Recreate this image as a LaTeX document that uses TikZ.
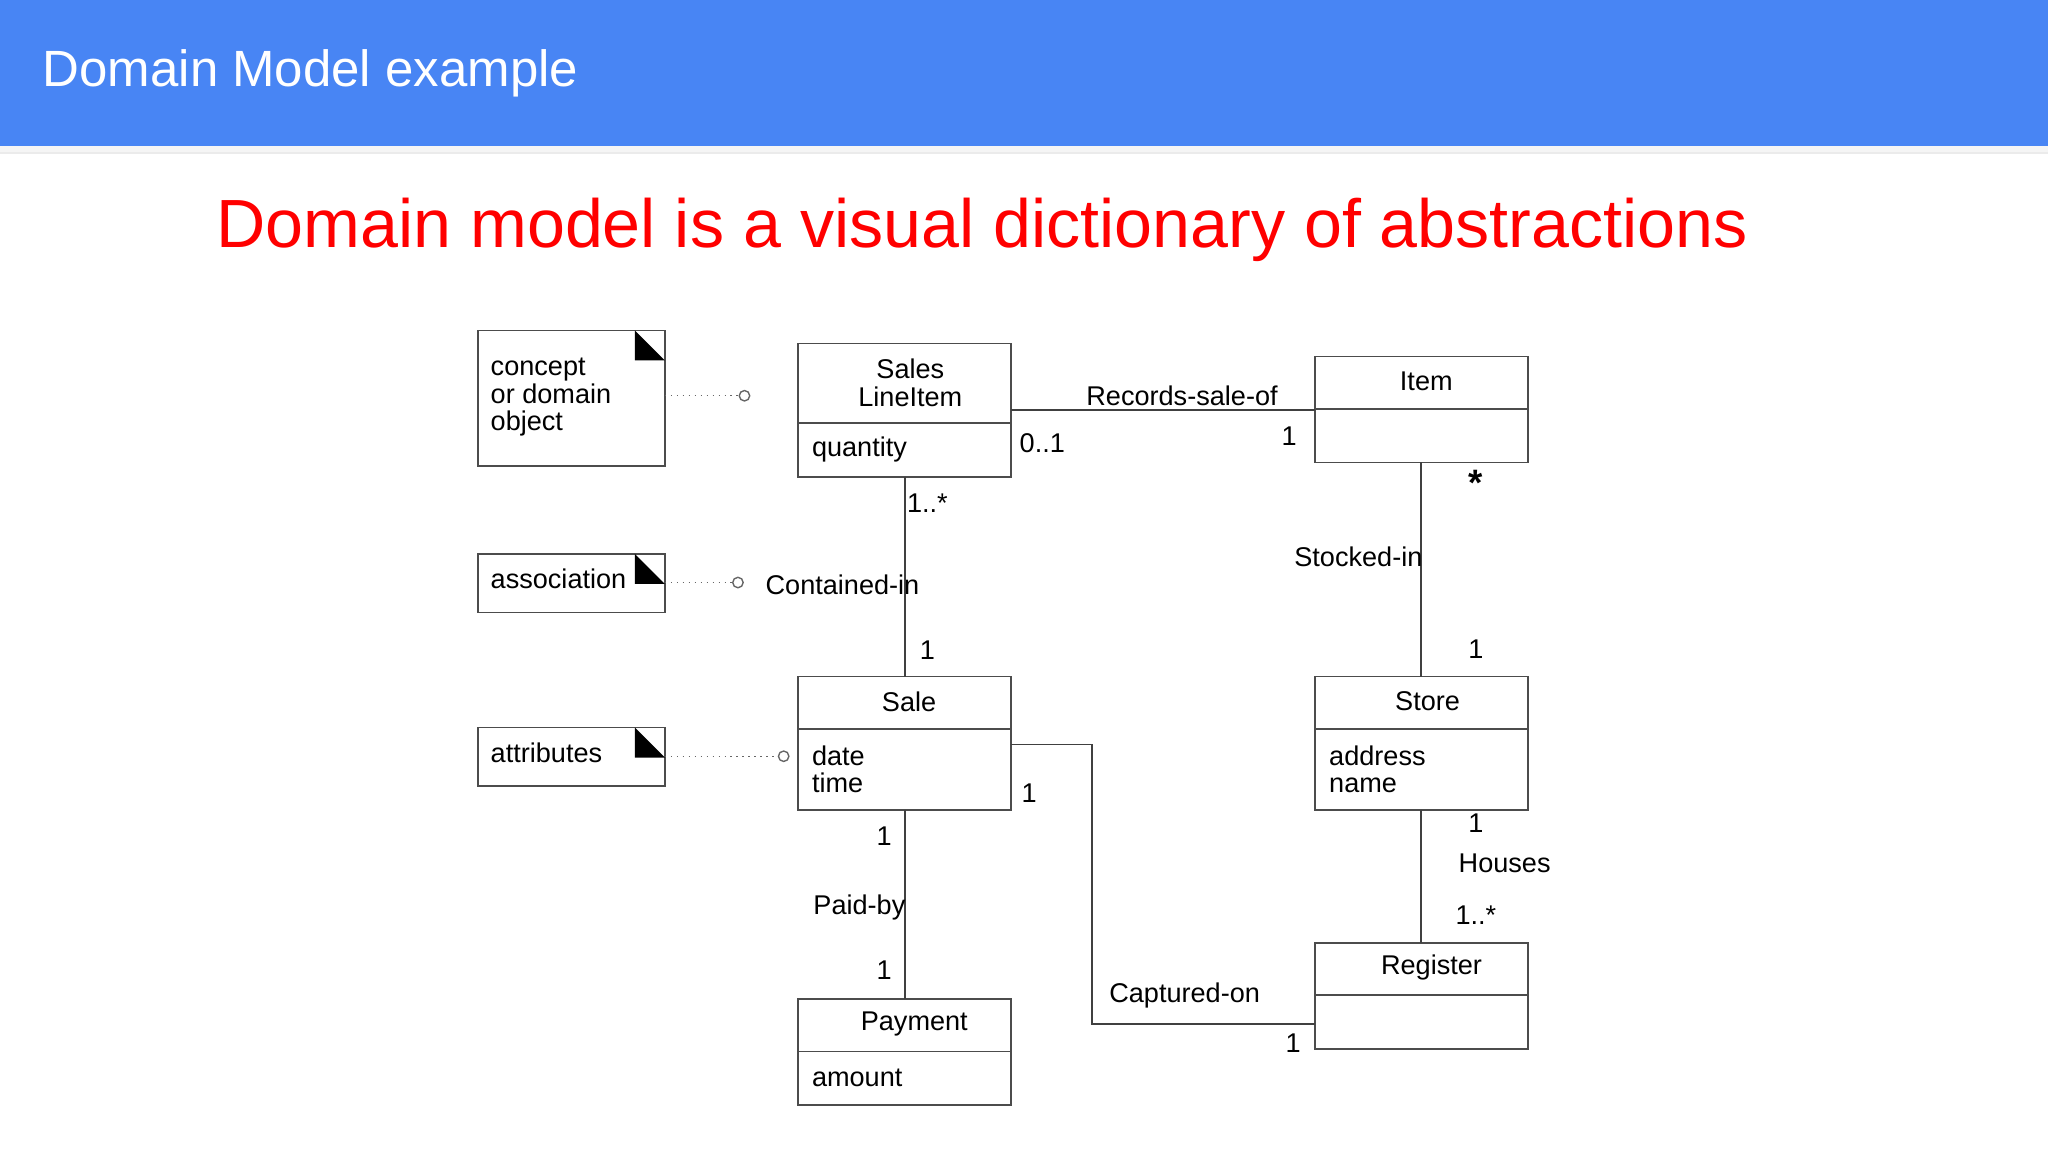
\documentclass[tikz,border=0pt]{standalone}
\usepackage{fontspec}
\setmainfont{Liberation Sans}
\begin{document}
\begin{tikzpicture}[x=0.01cm,y=-0.01cm,
  cls/.style={draw=black!70,line width=0.35pt},
  lbl/.style={font=\fontsize{5.9}{7}\selectfont,inner sep=0pt},
  lnk/.style={draw=black!75,line width=0.4pt},
  dot/.style={draw=black!60,densely dotted,line width=0.3pt},
  circ/.style={draw=black!60,fill=white,circle,inner sep=0pt,minimum size=0.08cm,line width=0.3pt}]
\useasboundingbox (0,0) rectangle (1568,882);
\fill[white] (0,0) rectangle (1568,882);
\fill[black!8] (0,112) rectangle (1568,118);
\fill[black!4] (0,112) rectangle (1568,116);
\fill[fill={rgb,255:red,72;green,133;blue,244}] (0,0) rectangle (1568,112);
\node[anchor=west,text=white,font=\fontsize{11.1}{13}\selectfont,inner sep=0pt] (title) at (32,56) {Domain Model example};
\node[text=red,font=\fontsize{14.85}{16}\selectfont,inner sep=0pt] (head) at (752,176) {Domain model is a visual dictionary of abstractions};
% classes
\draw[cls] (611,263) rectangle (774,365); \draw[cls] (611,324) -- (774,324);
\node[lbl,align=center] (sli) at (697,293) {Sales\\[-1pt]LineItem};
\node[lbl,anchor=west] (slia) at (621,344) {quantity};
\draw[cls] (1007,273) rectangle (1170,354); \draw[cls] (1007,313) -- (1170,313);
\node[lbl] (item) at (1092,292) {Item};
\draw[cls] (611,518) rectangle (774,620); \draw[cls] (611,558) -- (774,558);
\node[lbl] (sale) at (696,537) {Sale};
\node[lbl,anchor=west,align=left] (salea) at (621,589) {date\\[-1pt]time};
\draw[cls] (1007,518) rectangle (1170,620); \draw[cls] (1007,558) -- (1170,558);
\node[lbl] (store) at (1093,537) {Store};
\node[lbl,anchor=west,align=left] (storea) at (1017,589) {address\\[-1pt]name};
\draw[cls] (611,765) rectangle (774,846); \draw[cls] (611,805) -- (774,805);
\node[lbl] (pay) at (700,784) {Payment};
\node[lbl,anchor=west] (paya) at (621,825) {amount};
\draw[cls] (1007,722) rectangle (1170,803); \draw[cls] (1007,762) -- (1170,762);
\node[lbl] (reg) at (1096,741) {Register};
% notes
\draw[cls] (366,253) rectangle (509,357); \fill (486,253) -- (486,276) -- (509,276) -- cycle;
\node[lbl,anchor=west,align=left] (n1) at (375,304) {concept\\[-1pt]or domain\\[-1pt]object};
\draw[cls] (366,424) rectangle (509,469); \fill (486,424) -- (486,447) -- (509,447) -- cycle;
\node[lbl,anchor=west] (n2) at (375,443) {association};
\draw[cls] (366,557) rectangle (509,602); \fill (486,557) -- (486,580) -- (509,580) -- cycle;
\node[lbl,anchor=west] (n3) at (375,576) {attributes};
\coordinate (c1) at (570,303); \coordinate (c2) at (565,446); \coordinate (c3) at (600,579);
\draw[dot] (509,303) -- (c1); \node[circ] at (c1) {};
\draw[dot] (509,446) -- (c2); \node[circ] at (c2) {};
\draw[dot] (509,579) -- (c3); \node[circ] at (c3) {};
% links
\draw[lnk] (774,314) -- (1007,314);
\node[lbl] at (905,303) {Records-sale-of};
\node[lbl] at (798,339) {0..1};
\node[lbl] at (987,334) {1};
\draw[lnk] (693,365) -- (693,518);
\node[lbl] at (710,385) {1..*};
\node[lbl] at (645,448) {Contained-in};
\node[lbl] at (710,498) {1};
\draw[lnk] (1088,354) -- (1088,518);
\node[lbl,font=\fontsize{8}{9}\selectfont\bfseries] at (1130,370) {*};
\node[lbl] at (1040,426) {Stocked-in};
\node[lbl] at (1130,497) {1};
\draw[lnk] (693,620) -- (693,765);
\node[lbl] at (677,640) {1};
\node[lbl] at (658,695) {Paid-by};
\node[lbl] at (677,743) {1};
\draw[lnk] (1088,620) -- (1088,722);
\node[lbl] at (1130,630) {1};
\node[lbl] at (1152,661) {Houses};
\node[lbl] at (1130,701) {1..*};
\draw[lnk] (774,570) -- (836,570) -- (836,784) -- (1007,784);
\node[lbl] at (788,607) {1};
\node[lbl] at (907,762) {Captured-on};
\node[lbl] at (990,799) {1};
\end{tikzpicture}
\end{document}
